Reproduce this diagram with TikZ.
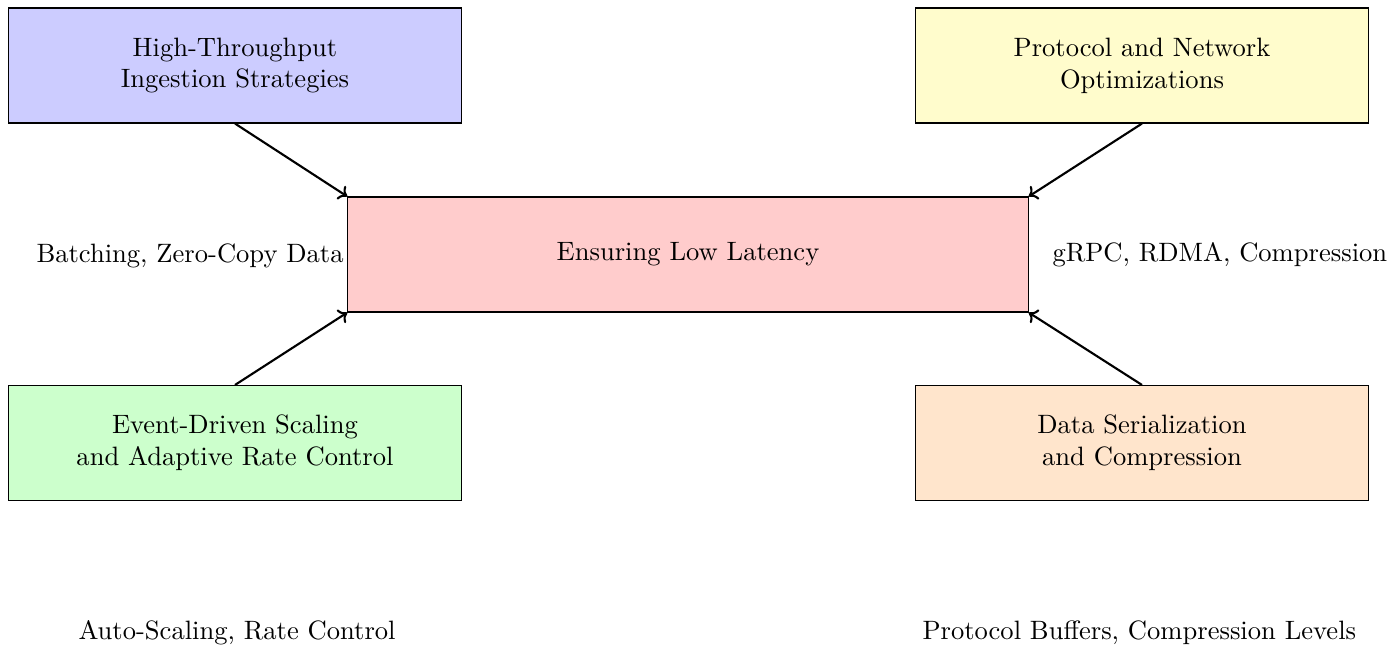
\documentclass[tikz,border=0pt]{standalone}
\usetikzlibrary{arrows.meta}
\newcommand{\boxfont}{\fontsize{10}{12}\selectfont}
\tikzset{
  topic/.style={draw=black, line width=0.45pt, minimum width=6cm, minimum height=1.52cm,
    inner sep=0pt, align=center, font=\boxfont},
  core/.style={draw=black, line width=0.45pt, fill=red!20, minimum width=9cm,
    minimum height=1.52cm, inner sep=0pt, font=\boxfont},
  note/.style={inner sep=0pt, anchor=base west, font=\boxfont},
  feed/.style={thick, -{To[length=3pt,width=6pt]}}
}
\begin{document}
\begin{tikzpicture}[x=0.013228cm, y=-0.013228cm]
  \useasboundingbox (0,0) rectangle (1400,646);

  % side notes (the left one sits partly under the core box)
  \node[note] (nbatch) at (36,262) {Batching, Zero-Copy Data T};
  \node[note] (nrpc) at (1052,261) {gRPC, RDMA, Compression};
  \node[note] (nauto) at (78,639) {Auto-Scaling, Rate Control};
  \node[note] (nproto) at (922,639) {Protocol Buffers, Compression Levels};

  % core box
  \node[core] (core) at (688,254.5) {Ensuring Low Latency};

  % the four contributing areas
  \node[topic, fill=blue!20] (ingest) at (235,65.5) {High-Throughput\\Ingestion Strategies};
  \node[topic, fill=yellow!20] (proto) at (1142,65.5) {Protocol and Network\\Optimizations};
  \node[topic, fill=green!20] (event) at (235,443) {Event-Driven Scaling\\and Adaptive Rate Control};
  \node[topic, fill=orange!20] (serial) at (1142,443) {Data Serialization\\and Compression};

  % connectors into the core
  \draw[feed] (ingest.south) -- (core.north west);
  \draw[feed] (proto.south) -- (core.north east);
  \draw[feed] (event.north) -- (core.south west);
  \draw[feed] (serial.north) -- (core.south east);
\end{tikzpicture}
\end{document}
